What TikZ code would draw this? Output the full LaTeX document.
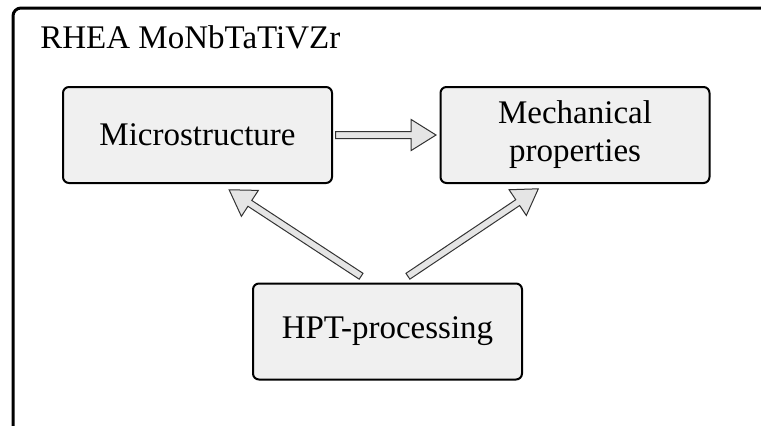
\documentclass[tikz,border=0pt]{standalone}
\usepackage{fontspec}
\setmainfont{Liberation Serif}
\usetikzlibrary{calc, shapes.arrows}

\begin{document}
\begin{tikzpicture}[x=0.5pt, y=-0.5pt,
    box/.style={draw, line width=1pt, rounded corners=3pt, fill=gray!12,
        minimum width=134.5pt, minimum height=48pt, align=center,
        font=\fontsize{16.5}{19}\selectfont},
    fat/.style={to path={let \p1=(\tikztostart), \p2=(\tikztotarget),
        \n1={atan2(\y2-\y1,\x2-\x1)}, \n2={veclen(\x2-\x1,\y2-\y1)} in
        node[single arrow, draw=black!80, line width=0.5pt, fill=gray!20,
        inner sep=1.5pt, single arrow head extend=6pt,
        single arrow tip angle=64, minimum height=\n2, rotate=\n1,
        anchor=tail] at (\p1) {}}}]
    \useasboundingbox (0,0) rectangle (761,425);
    \begin{scope}
        \clip (0,0) rectangle (761,425);
        \draw[line width=1.5pt, rounded corners=4pt] (13,8) rectangle (900,520);
    \end{scope}
    \node[anchor=base west, inner sep=0pt, font=\fontsize{16.5}{19}\selectfont] (title) at (40,48) {RHEA MoNbTaTiVZr};
    \node[box] (micro) at (197.5,135) {Microstructure};
    \node[box] (mech) at (575,135) {Mechanical\\properties};
    \node[box] (hpt) at (387.5,331.5) {HPT-processing};
    % arrow ends
    \coordinate (h1) at ($(micro.east)+(2,0)$);
    \coordinate (h2) at ($(mech.west)+(-4,0)$);
    \coordinate (l1) at ($(hpt.north)+(-26,-6)$);
    \coordinate (l2) at ($(micro.south)+(32,6)$);
    \coordinate (r1) at ($(hpt.north)+(20,-6)$);
    \coordinate (r2) at ($(mech.south)+(-37,5)$);
    \path (h1) to[fat] (h2);
    \path (l1) to[fat] (l2);
    \path (r1) to[fat] (r2);
\end{tikzpicture}
\end{document}
